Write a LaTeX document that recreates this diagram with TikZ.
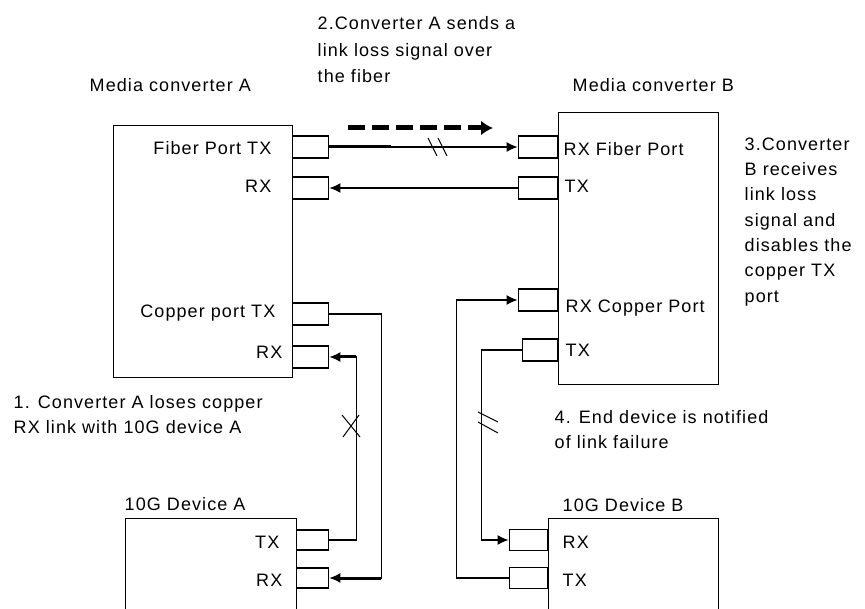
\documentclass[tikz,border=0pt]{standalone}
\usepackage{fontspec}
\setmainfont[LetterSpace=6]{Liberation Sans}
\usetikzlibrary{positioning,arrows.meta}

\begin{document}
\begin{tikzpicture}[x=1pt,y=-1pt,line width=1.4pt,
    every node/.style={font=\fontsize{18}{25}\selectfont},
    box/.style={draw,inner sep=0pt,anchor=north west},
    port/.style={draw,inner sep=0pt,minimum width=36pt,minimum height=22pt},
    lbl/.style={inner sep=0pt},
    note/.style={inner sep=0pt,align=left,anchor=north west},
    sig/.style={-{Latex[length=11pt,width=10pt]}},
    stem/.style={line width=3pt}]
  \clip (0,0) rectangle (865,609);
  % boxes
  \node[box,minimum width=179pt,minimum height=252pt] (ma) at (113,125) {};
  \node[box,minimum width=160pt,minimum height=272pt] (mb) at (558,112) {};
  \node[box,minimum width=171pt,minimum height=130pt] (da) at (125,518) {};
  \node[box,minimum width=170pt,minimum height=130pt] (db) at (548,518) {};
  % ports
  \node[port,anchor=west] (afo) at (292,147) {};
  \node[port,anchor=west] (afi) at (292,188) {};
  \node[port,anchor=west] (aco) at (292,314) {};
  \node[port,anchor=west] (aci) at (292,357) {};
  \node[port,anchor=east,minimum width=39pt] (bfi) at (558,147) {};
  \node[port,anchor=east,minimum width=39pt] (bfo) at (558,188) {};
  \node[port,anchor=east,minimum width=39pt] (bci) at (558,300) {};
  \node[port,anchor=east,minimum width=35pt] (bco) at (558,350) {};
  \node[port,anchor=west,minimum width=32pt,minimum height=20pt] (dao) at (296,540) {};
  \node[port,anchor=west,minimum width=32pt,minimum height=20pt] (dai) at (296,578) {};
  \node[port,anchor=east,minimum width=38pt,minimum height=21pt] (dbi) at (548,540) {};
  \node[port,anchor=east,minimum width=38pt,minimum height=21pt] (dbo) at (548,578) {};
  % titles
  \node[lbl,anchor=base west] (tma) at (89,92) {Media converter A};
  \node[lbl,anchor=base west] (tmb) at (572,92) {Media converter B};
  \node[lbl,anchor=base west] (tda) at (124,510) {10G Device A};
  \node[lbl,anchor=base west] (tdb) at (562,511) {10G Device B};
  % port labels
  \node[lbl,anchor=base east] (lafo) at (272,155) {Fiber Port TX};
  \node[lbl,anchor=base east] (lafi) at (272,193) {RX};
  \node[lbl,anchor=base east] (laco) at (276,318) {Copper port TX};
  \node[lbl,anchor=base east] (laci) at (283,359) {RX};
  \node[lbl,anchor=base west] (lbfi) at (563,156) {RX Fiber Port};
  \node[lbl,anchor=base west] (lbfo) at (564,193) {TX};
  \node[lbl,anchor=base west] (lbci) at (565,313) {RX Copper Port};
  \node[lbl,anchor=base west] (lbco) at (565,357) {TX};
  \node[lbl,anchor=base east] (ldao) at (280,548) {TX};
  \node[lbl,anchor=base east] (ldai) at (283,586) {RX};
  \node[lbl,anchor=base west] (ldbi) at (562,548) {RX};
  \node[lbl,anchor=base west] (ldbo) at (562,586) {TX};
  % notes
  \node[note,font=\fontsize{18}{26.5}\selectfont] (n2) at (317,16) {2.Converter A sends a\\link loss signal  over\\the fiber};
  \node[note,font=\fontsize{18}{25.3}\selectfont] (n3) at (744,137) {3.Converter\\B receives\\link loss\\signal and\\disables the\\copper TX\\port};
  \node[note] (n1) at (13,395) {1. Converter A loses copper\\RX link with 10G device A};
  \node[note] (n4) at (554,410) {4. End device is notified\\of link  failure};
  % fiber links
  \draw[sig] (afo) -- (bfi);
  \draw[stem] (afo.east) -- ++(62,0);
  \draw[line width=1pt] (428,138) -- (437,156) (438,138) -- (447,156);
  \draw[sig] (bfo) -- (afi);
  \coordinate (s1) at (348,128);
  \coordinate (s2) at (493,128);
  \draw[line width=5pt,dash pattern=on 17pt off 7pt,-{Latex[length=12pt,width=15pt]}] (s1) -- (s2);
  % copper links A
  \draw[sig] (aco.east) -- ++(52,0) |- (dai.east);
  \draw[stem] (dai.east) ++(8,0) -- ++(44,0);
  \draw[sig] (dao.east) -- ++(27,0) |- (aci.east);
  \draw[stem] (aci.east) ++(8,0) -- ++(19,0);
  \draw[line width=1pt] (342,415) -- (360,437) (343,437) -- (359,415);
  % copper links B
  \draw[sig] (bco.west) -- ++(-40,0) |- (dbi.west);
  \draw[sig] (dbo.west) -- ++(-52,0) |- (bci.west);
  \draw[line width=1pt] (478,412) -- (498,422) (478,422) -- (498,433);
\end{tikzpicture}
\end{document}
